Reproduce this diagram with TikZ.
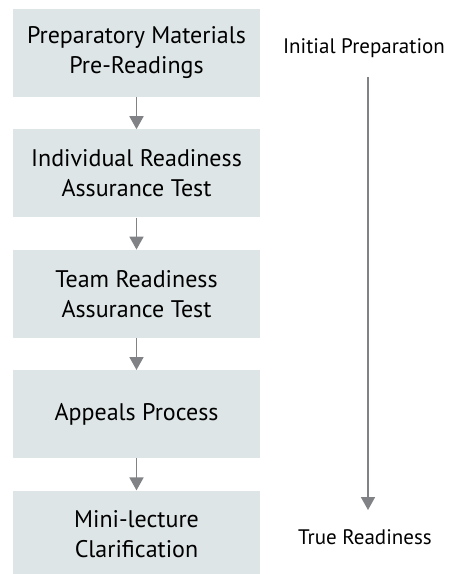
\documentclass[tikz,border=0pt]{standalone}
\usepackage{fontspec}
\setmainfont{PT Sans}
\usetikzlibrary{positioning,arrows.meta}
\definecolor{boxfill}{HTML}{DDE5E6}
\definecolor{arrowgray}{HTML}{808285}
\begin{document}
\begin{tikzpicture}[
			x=1pt, y=1pt,
			stage/.style={rectangle, fill=boxfill, minimum width=247pt, minimum height=88pt,
					align=center, font=\fontsize{24}{30}\selectfont, inner sep=0pt},
			label text/.style={font=\fontsize{21}{26}\selectfont},
			flow/.style={-{Triangle[length=13pt,width=14pt]}, line width=1.8pt, arrowgray},
			node distance=32pt
		]
		\useasboundingbox (0,0) rectangle (448,-574);

		\node[stage] (prep) at (136.5,-53) {Preparatory Materials\\Pre-Readings};
		\node[stage, below=of prep] (irat) {Individual Readiness\\Assurance Test};
		\node[stage, below=of irat] (trat) {Team Readiness\\Assurance Test};
		\node[stage, below=of trat] (appeal) {Appeals Process};
		\node[stage, below=of appeal] (lecture) {Mini-lecture\\Clarification};

		\draw[flow] (prep) -- (irat);
		\draw[flow] (irat) -- (trat);
		\draw[flow] (trat) -- (appeal);
		\draw[flow] (appeal) -- (lecture);

		% readiness scale on the right
		\node[label text] (start) at (364,-48) {Initial Preparation};
		\node[label text] (finish) at (365,-537) {True Readiness};
		\coordinate (top) at (368,-77);
		\coordinate (bottom) at (368,-510);
		\draw[flow] (top) -- (bottom);
	\end{tikzpicture}
\end{document}
